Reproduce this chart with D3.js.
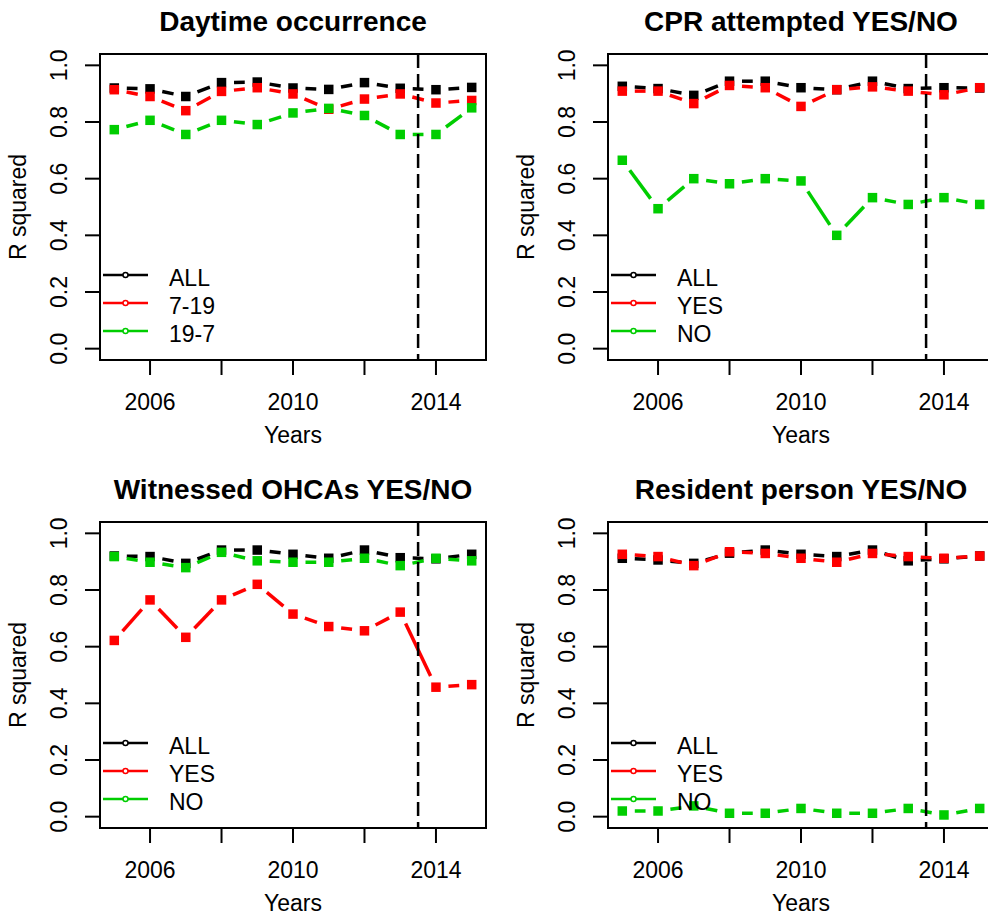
<!DOCTYPE html>
<html>
<head>
<meta charset="utf-8">
<title>R squared by year</title>
<script src="https://cdn.jsdelivr.net/npm/d3@7"></script>
<style>
body { margin: 0; background: #fff; }
svg { display: block; }
text { font-family: "Liberation Sans", Arial, sans-serif; fill: #000; }
.title { font-size: 28px; font-weight: bold; }
.lab { font-size: 23px; }
</style>
</head>
<body>
<script>
// years on the x axis
const years = [2005, 2006, 2007, 2008, 2009, 2010, 2011, 2012, 2013, 2014, 2015]
const xTicks = [2006, 2008, 2010, 2012, 2014]
const xLabels = [2006, 2010, 2014]
const yTicks = [0, 0.2, 0.4, 0.6, 0.8, 1.0]
const cutYear = 2013.5

const titles = ['Daytime occurrence', 'CPR attempted YES/NO', 'Witnessed OHCAs YES/NO', 'Resident person YES/NO']
const legendDay = ['ALL', '7-19', '19-7']
const legendYesNo = ['ALL', 'YES', 'NO']

// Daytime occurrence
const dayAll = [0.920, 0.917, 0.890, 0.939, 0.941, 0.920, 0.915, 0.939, 0.919, 0.914, 0.922]
const day719 = [0.914, 0.890, 0.840, 0.908, 0.921, 0.899, 0.845, 0.881, 0.899, 0.867, 0.876]
const day197 = [0.773, 0.806, 0.756, 0.806, 0.791, 0.832, 0.848, 0.823, 0.756, 0.756, 0.850]

// CPR attempted
const cprAll = [0.926, 0.918, 0.894, 0.944, 0.944, 0.921, 0.914, 0.944, 0.918, 0.921, 0.920]
const cprYes = [0.909, 0.909, 0.865, 0.929, 0.921, 0.855, 0.914, 0.924, 0.909, 0.896, 0.921]
const cprNo = [0.665, 0.494, 0.600, 0.582, 0.600, 0.592, 0.400, 0.533, 0.509, 0.533, 0.509]

// Witnessed OHCAs
const witAll = [0.920, 0.918, 0.894, 0.941, 0.941, 0.926, 0.912, 0.941, 0.914, 0.910, 0.926]
const witYes = [0.622, 0.765, 0.633, 0.765, 0.820, 0.715, 0.671, 0.656, 0.722, 0.457, 0.466]
const witNo = [0.918, 0.898, 0.879, 0.933, 0.903, 0.898, 0.898, 0.912, 0.886, 0.912, 0.903]

// Resident person
const resAll = [0.912, 0.906, 0.894, 0.930, 0.941, 0.926, 0.918, 0.941, 0.903, 0.910, 0.920]
const resYes = [0.926, 0.918, 0.886, 0.935, 0.929, 0.912, 0.898, 0.929, 0.918, 0.912, 0.920]
const resNo = [0.020, 0.020, 0.038, 0.012, 0.012, 0.029, 0.012, 0.012, 0.029, 0.006, 0.029]

const colors = ['#000000', '#ff0000', '#00cd00']

const panels = [
  { title: titles[0], legend: legendDay, series: [dayAll, day719, day197], dx: 0, dy: 0 },
  { title: titles[1], legend: legendYesNo, series: [cprAll, cprYes, cprNo], dx: 508, dy: 0 },
  { title: titles[2], legend: legendYesNo, series: [witAll, witYes, witNo], dx: 0, dy: 468 },
  { title: titles[3], legend: legendYesNo, series: [resAll, resYes, resNo], dx: 508, dy: 468 }
]

const W = 988, H = 919
const box = { left: 100, right: 486, top: 54, bottom: 360 }
const gap = 12.5   // gap between point and line, like type = "b"
const sq = 9.5

const svg = d3.select('body').append('svg')
    .attr('width', W)
    .attr('height', H)

// R pads the data range by 4%
const x = d3.scaleLinear().domain([2004.6, 2015.4]).range([box.left, box.right])
const y = d3.scaleLinear().domain([-0.04, 1.04]).range([box.bottom, box.top])

panels.forEach(p => {
  const g = svg.append('g').attr('transform', `translate(${p.dx}, ${p.dy})`)

  // series: broken segments then square points
  p.series.forEach((vals, i) => {
    const pts = years.map((yr, k) => [x(yr), y(vals[k])])
    const segs = d3.pairs(pts).map(([a, b]) => {
      const len = Math.hypot(b[0] - a[0], b[1] - a[1])
      const ux = (b[0] - a[0]) / len, uy = (b[1] - a[1]) / len
      return [a[0] + ux * gap, a[1] + uy * gap, b[0] - ux * gap, b[1] - uy * gap]
    })
    g.append('g').selectAll('line')
      .data(segs)
      .enter().append('line')
        .attr('x1', d => d[0]).attr('y1', d => d[1])
        .attr('x2', d => d[2]).attr('y2', d => d[3])
        .style('stroke', colors[i])
        .style('stroke-width', 3.5)
    g.append('g').selectAll('rect')
      .data(pts)
      .enter().append('rect')
        .attr('x', d => d[0] - sq / 2)
        .attr('y', d => d[1] - sq / 2)
        .attr('width', sq)
        .attr('height', sq)
        .style('fill', colors[i])
  })

  // vertical dashed line
  g.append('line')
      .attr('x1', x(cutYear)).attr('x2', x(cutYear))
      .attr('y1', box.top).attr('y2', box.bottom)
      .style('stroke', '#000')
      .style('stroke-width', 2.5)
      .style('stroke-dasharray', '14,6')

  // frame
  g.append('rect')
      .attr('x', box.left).attr('y', box.top)
      .attr('width', box.right - box.left)
      .attr('height', box.bottom - box.top)
      .style('fill', 'none')
      .style('stroke', '#000')
      .style('stroke-width', 2)

  // y axis
  g.selectAll('.ytick')
    .data(yTicks)
    .enter().append('line')
      .attr('x1', box.left - 15).attr('x2', box.left)
      .attr('y1', d => y(d)).attr('y2', d => y(d))
      .style('stroke', '#000').style('stroke-width', 2)
  g.selectAll('.ylab')
    .data(yTicks)
    .enter().append('text')
      .attr('class', 'lab')
      .attr('transform', d => `translate(${box.left - 33}, ${y(d)}) rotate(-90)`)
      .style('text-anchor', 'middle')
      .text(d => d3.format('.1f')(d))

  // x axis
  g.selectAll('.xtick')
    .data(xTicks)
    .enter().append('line')
      .attr('x1', d => x(d)).attr('x2', d => x(d))
      .attr('y1', box.bottom).attr('y2', box.bottom + 15)
      .style('stroke', '#000').style('stroke-width', 2)
  g.selectAll('.xlab')
    .data(xLabels)
    .enter().append('text')
      .attr('class', 'lab')
      .attr('x', d => x(d))
      .attr('y', box.bottom + 50)
      .style('text-anchor', 'middle')
      .text(d => d)

  // axis titles
  g.append('text')
      .attr('class', 'lab')
      .attr('x', (box.left + box.right) / 2)
      .attr('y', box.bottom + 83)
      .style('text-anchor', 'middle')
      .text('Years')
  g.append('text')
      .attr('class', 'lab')
      .attr('transform', `translate(${box.left - 74}, ${(box.top + box.bottom) / 2}) rotate(-90)`)
      .style('text-anchor', 'middle')
      .text('R squared')

  // plot title
  g.append('text')
      .attr('class', 'title')
      .attr('x', (box.left + box.right) / 2)
      .attr('y', box.top - 23)
      .style('text-anchor', 'middle')
      .text(p.title)

  // legend
  const leg = g.selectAll('.leg')
    .data(p.legend)
    .enter().append('g')
      .attr('transform', (d, i) => `translate(0, ${275 + i * 28})`)
  leg.append('line')
      .attr('x1', 103).attr('x2', 148)
      .style('stroke', (d, i) => colors[i])
      .style('stroke-width', 2.5)
  leg.append('circle')
      .attr('cx', 125.5).attr('r', 2.5)
      .style('fill', '#fff')
      .style('stroke', (d, i) => colors[i])
      .style('stroke-width', 1.5)
  leg.append('text')
      .attr('class', 'lab')
      .attr('x', 169)
      .attr('y', 11)
      .text(d => d)
})
</script>
</body>
</html>
